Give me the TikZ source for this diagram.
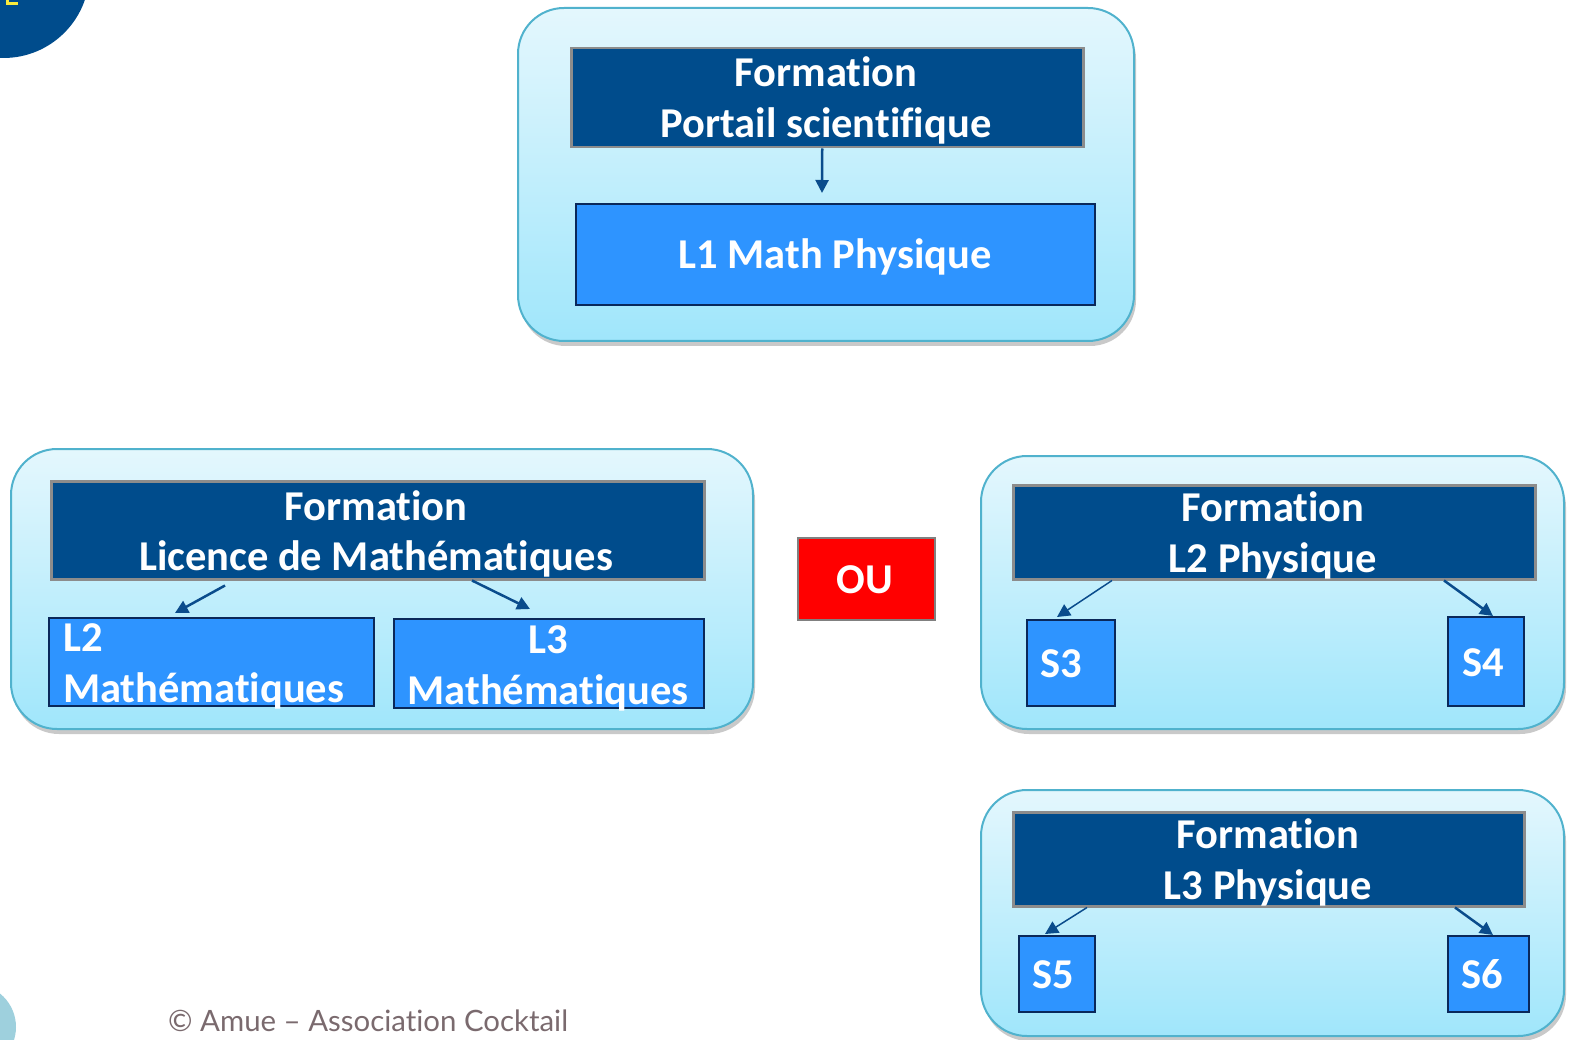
\documentclass[tikz,border=0pt]{standalone}
\usepackage{fontspec}
\setmainfont{Carlito}[Ligatures={NoCommon,NoRequired,NoContextual,NoRare}]
\newfontfamily\footfont{Lato}[Ligatures={NoCommon,NoRequired,NoContextual,NoRare}]
\newcommand\nolig{\kern0pt{}}
\usetikzlibrary{arrows.meta,shadows}
\definecolor{navy}{RGB}{0,76,140}
\definecolor{azure}{RGB}{46,148,255}
\definecolor{edgenavy}{RGB}{10,40,90}
\definecolor{contedge}{RGB}{80,178,205}
\definecolor{conttop}{RGB}{228,247,253}
\definecolor{contbot}{RGB}{160,230,251}
\definecolor{footgray}{RGB}{122,106,110}
\definecolor{arrowblue}{RGB}{10,76,140}
\definecolor{paleteal}{RGB}{158,208,221}
\definecolor{markyellow}{RGB}{250,235,60}
\tikzset{
 container/.style={draw=contedge, line width=2pt, rounded corners=46pt, top color=conttop, bottom color=contbot,
   drop shadow={shadow xshift=2pt, shadow yshift=-5pt, opacity=0.3, fill=black!70},
   inner sep=0pt, anchor=north west},
 darkbox/.style={draw=gray!90, line width=2.5pt, fill=navy, inner sep=0pt, anchor=north west},
 lightbox/.style={draw=edgenavy, line width=2pt, fill=azure, inner sep=0pt, anchor=north west},
 redbox/.style={draw=gray, line width=2pt, fill=red, inner sep=0pt, anchor=north west},
 lbl/.style={text=white, font=\fontsize{42.5}{50}\selectfont\bfseries, inner sep=0pt, anchor=base},
 arr/.style={draw=arrowblue, line width=2.5pt, -{Triangle[length=13pt,width=13pt]}},
 thinarr/.style={arr, line width=1.5pt},
}
\begin{document}
\begin{tikzpicture}[x=1pt,y=-1pt]
\useasboundingbox (0,0) rectangle (1571,1040);
% decorative corners
\fill[navy] (3.5,-28) circle (86pt);
\fill[markyellow] (6,0) rectangle (9,5);
\fill[markyellow] (6,2) rectangle (18,5);
\fill[paleteal] (-27,1027) circle (43pt);
% containers
\node[container, minimum width=616pt, minimum height=333pt] (C1) at (517,7) {};
\node[container, minimum width=742pt, minimum height=280pt] (C2) at (10,448) {};
\node[container, minimum width=583pt, minimum height=273pt] (C3) at (980,455) {};
\node[container, minimum width=583pt, minimum height=246pt] (C4) at (980,789) {};
% dark boxes
\node[darkbox, minimum width=512pt, minimum height=99pt] (P) at (570,47) {};
\node[darkbox, minimum width=653pt, minimum height=98pt] (LM) at (50,480) {};
\node[darkbox, minimum width=522pt, minimum height=94pt] (R1) at (1012,484) {};
\node[darkbox, minimum width=511pt, minimum height=94pt] (R2) at (1012,811) {};
% light boxes
\node[lightbox, minimum width=519pt, minimum height=101pt] (L1) at (575,203) {};
\node[lightbox, minimum width=325pt, minimum height=88pt] (L2) at (48,617) {};
\node[lightbox, minimum width=310pt, minimum height=89pt] (L3) at (393,618) {};
\node[lightbox, minimum width=88pt, minimum height=86pt] (S3) at (1026,619) {};
\node[lightbox, minimum width=76pt, minimum height=89pt] (S4) at (1447,616) {};
\node[lightbox, minimum width=76pt, minimum height=76pt] (S5) at (1018,935) {};
\node[lightbox, minimum width=81pt, minimum height=76pt] (S6) at (1447,935) {};
\node[redbox, minimum width=137pt, minimum height=82pt] (OU) at (797,537) {};
% texts
\node[lbl] (tP1) at (826,87) {Format\nolig ion};
\node[lbl] (tP2) at (826,138) {Portail scient\nolig if\nolig ique};
\node[lbl] (tL1) at (835,269) {L1 Math Physique};
\node[lbl] (tLM1) at (376,520) {Format\nolig ion};
\node[lbl] (tLM2) at (376,570) {Licence de Mathémat\nolig iques};
\node[lbl, anchor=base west] (tL2a) at (63,651) {L2};
\node[lbl, anchor=base west] (tL2b) at (63,702) {Mathémat\nolig iques};
\node[lbl] (tL3a) at (548,653) {L3};
\node[lbl] (tL3b) at (548,704) {Mathémat\nolig iques};
\node[lbl] (tOU) at (865,593) {OU};
\node[lbl] (tR1a) at (1273,521) {Format\nolig ion};
\node[lbl] (tR1b) at (1273,572) {L2 Physique};
\node[lbl] (tS3) at (1061,677) {S3};
\node[lbl] (tS4) at (1483,676) {S4};
\node[lbl] (tR2a) at (1268,848) {Format\nolig ion};
\node[lbl] (tR2b) at (1268,899) {L3 Physique};
\node[lbl] (tS5) at (1053,988) {S5};
\node[lbl] (tS6) at (1482,988) {S6};
% connectors
\draw[arr] ([xshift=-5pt]P.south) -- ([xshift=-13.5pt,yshift=10pt]L1.north);
\draw[arr] ([xshift=175pt,yshift=-5pt]LM.south west) -- ([xshift=127pt,yshift=4pt]L2.north west);
\draw[arr] ([xshift=422pt]LM.south west) -- ([xshift=137pt,yshift=9pt]L3.north west);
\draw[thinarr] ([xshift=100pt]R1.south west) -- ([xshift=31pt,yshift=2pt]S3.north west);
\draw[arr] ([xshift=432pt]R1.south west) -- ([xshift=46pt]S4.north west);
\draw[thinarr] ([xshift=75pt]R2.south west) -- ([xshift=27pt,yshift=1pt]S5.north west);
\draw[arr] ([xshift=443pt]R2.south west) -- ([xshift=46pt]S6.north west);
% footer
\node[font=\footfont\fontsize{29.4}{36}\selectfont, text=footgray, anchor=base west, inner sep=0pt] (foot) at (168,1031) {© Amue – Associat\nolig ion Cocktail};
\end{tikzpicture}
\end{document}
